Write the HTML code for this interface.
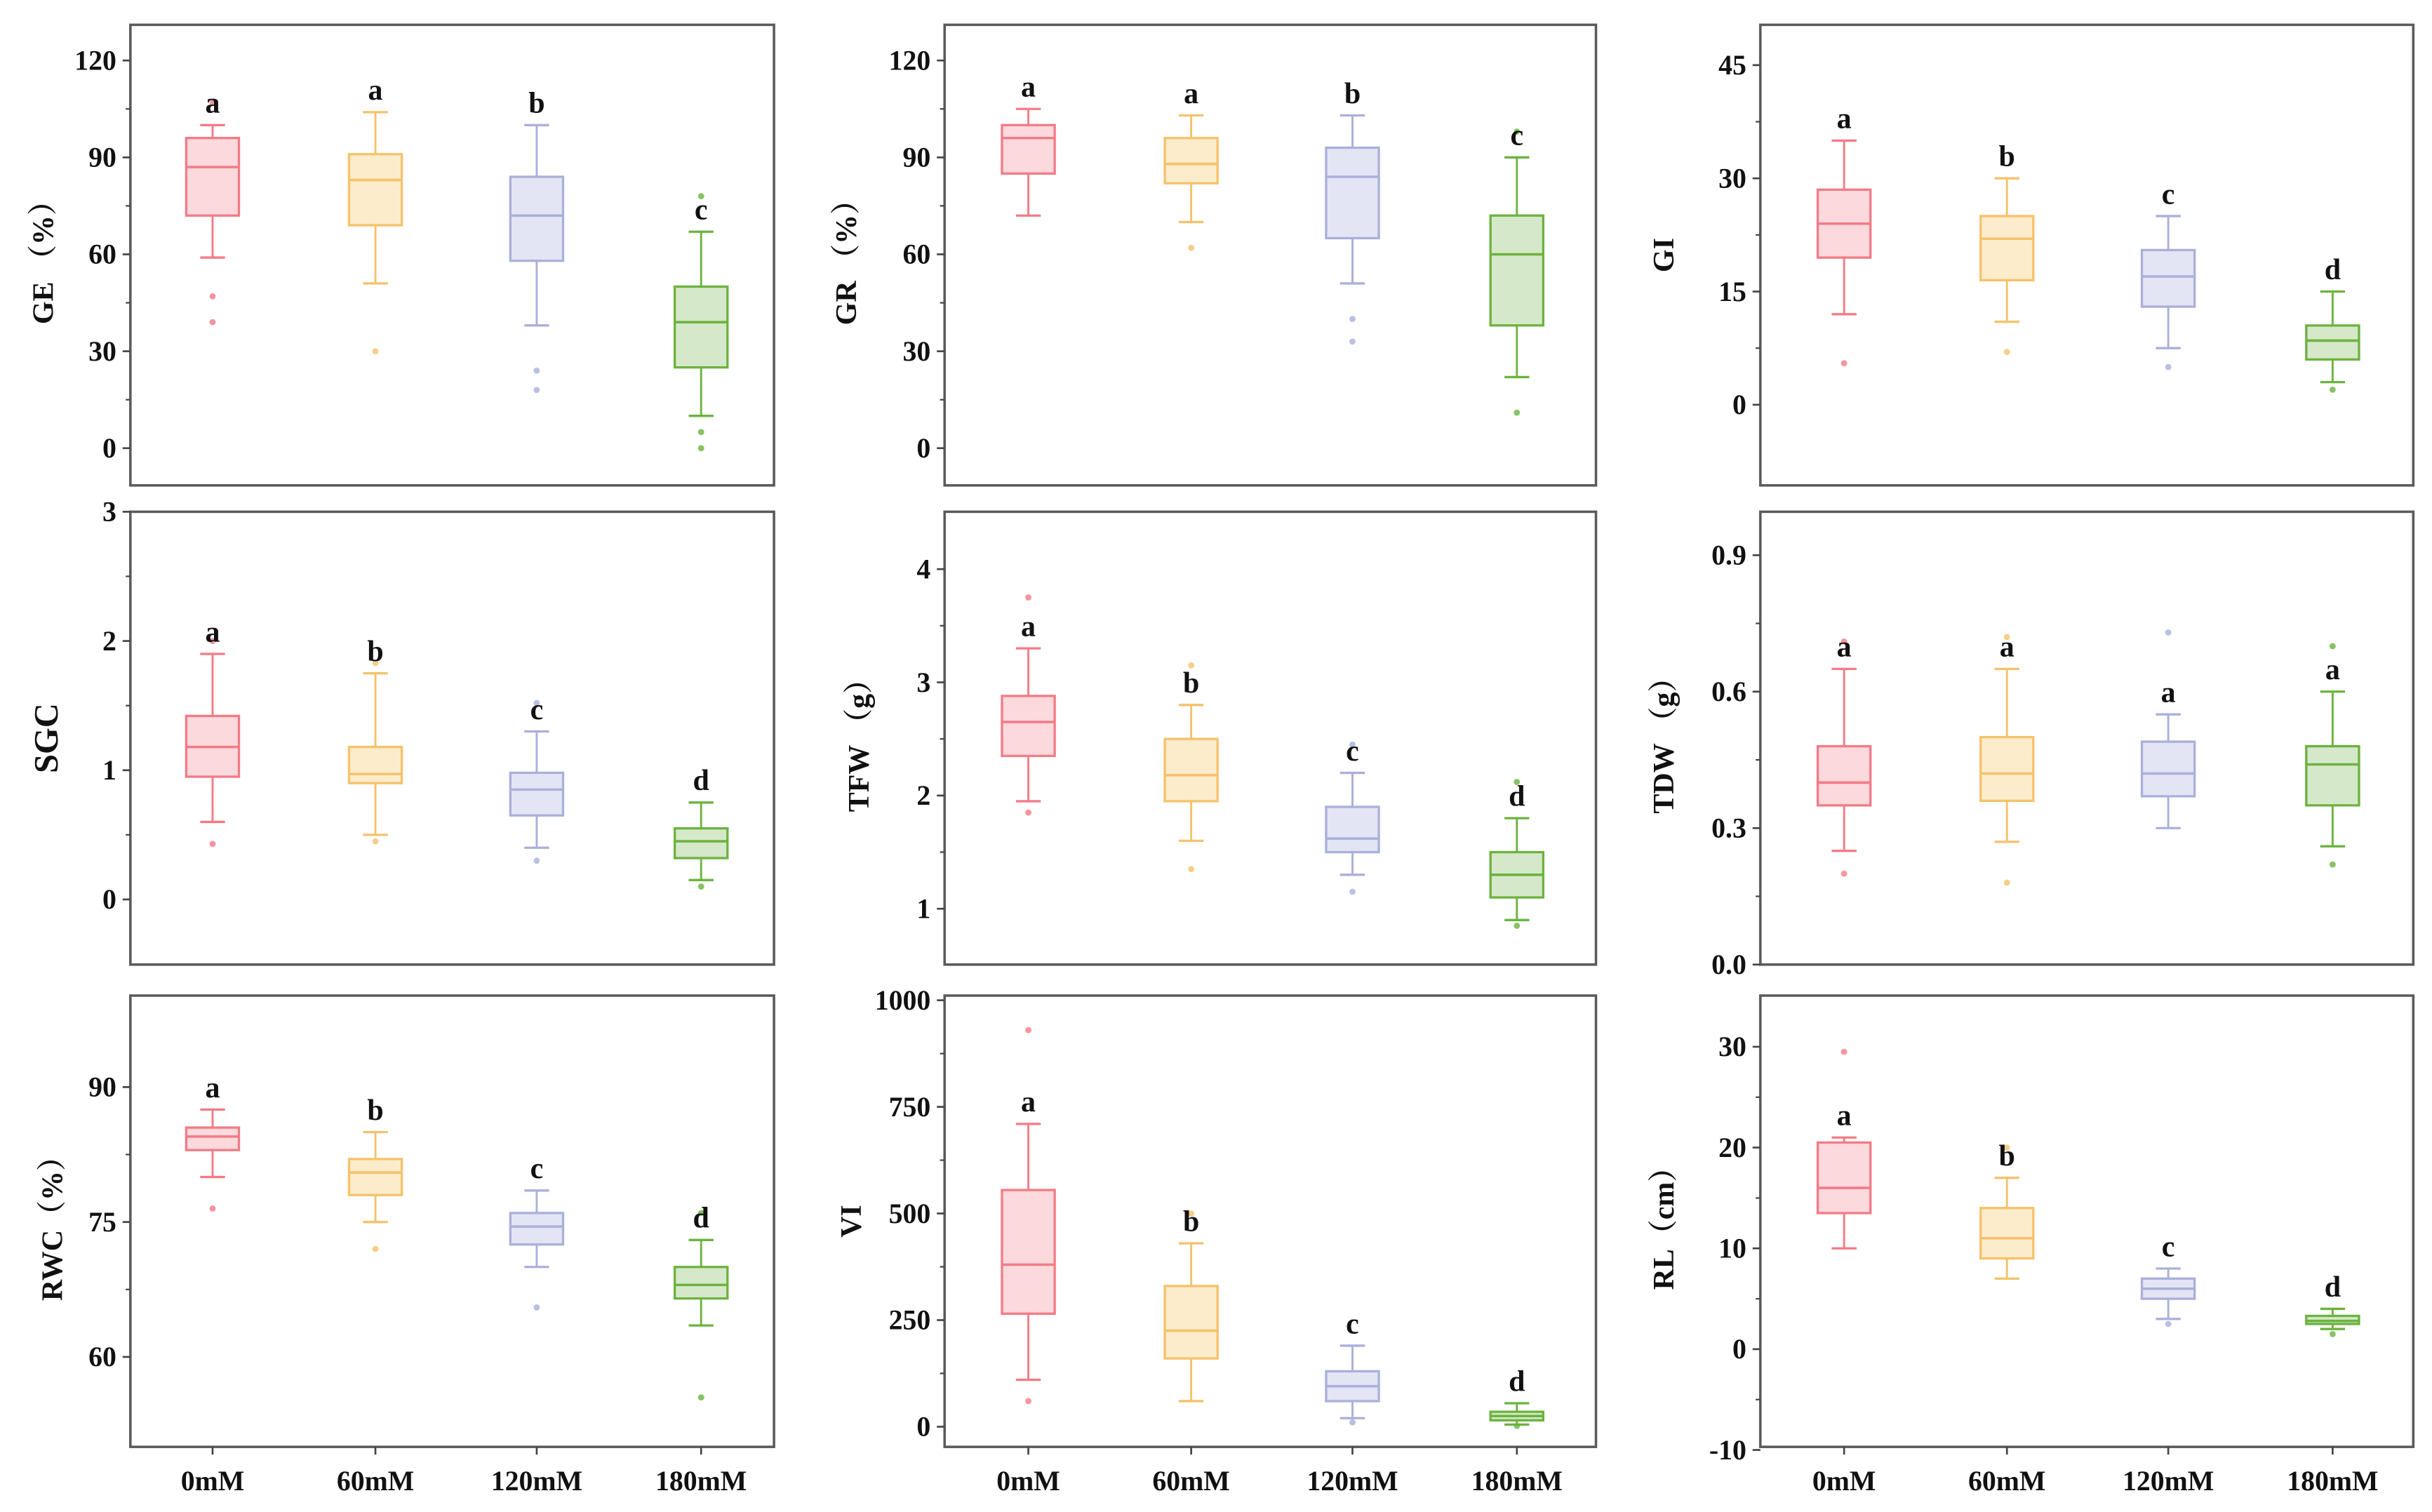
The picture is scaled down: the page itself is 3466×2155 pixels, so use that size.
<!DOCTYPE html>
<html><head><meta charset="utf-8">
<style>
html,body{margin:0;padding:0;background:#fff;}
svg{display:block;}
text{font-family:"Liberation Serif","Noto Serif CJK SC",serif;font-weight:bold;fill:#111;}
</style></head>
<body>
<svg id="fig" width="3466" height="2155" viewBox="0 0 1568 975" xmlns="http://www.w3.org/2000/svg"></svg>
<script>
// ---- data ----
const categories = ["0mM","60mM","120mM","180mM"];
const panelNames = ["GE","GR","GI","SGC","TFW","TDW","RWC","VI","RL"];
const yTitles = ["GE （%）","GR （%）","GI","SGC","TFW （g）","TDW （g）","RWC（%）","VI","RL（cm）"];
const yTicks = [[0,30,60,90,120],[0,30,60,90,120],[0,15,30,45],[0,1,2,3],[1,2,3,4],[0.0,0.3,0.6,0.9],[60,75,90],[0,250,500,750,1000],[-10,0,10,20,30]];
const yTickLabels = [["0","30","60","90","120"],["0","30","60","90","120"],["0","15","30","45"],["0","1","2","3"],["1","2","3","4"],["0.0","0.3","0.6","0.9"],["60","75","90"],["0","250","500","750","1000"],["-10","0","10","20","30"]];
// box stats per panel: [min,q1,median,q3,max] for each category
const statsGE  = [[59,72,87,96,100],[51,69,83,91,104],[38,58,72,84,100],[10,25,39,50,67]];
const statsGR  = [[72,85,96,100,105],[70,82,88,96,103],[51,65,84,93,103],[22,38,60,72,90]];
const statsGI  = [[12,19.5,24,28.5,35],[11,16.5,22,25,30],[7.5,13,17,20.5,25],[3,6,8.5,10.5,15]];
const statsSGC = [[0.6,0.95,1.18,1.42,1.9],[0.5,0.9,0.97,1.18,1.75],[0.4,0.65,0.85,0.98,1.3],[0.15,0.32,0.45,0.55,0.75]];
const statsTFW = [[1.95,2.35,2.65,2.88,3.3],[1.6,1.95,2.18,2.5,2.8],[1.3,1.5,1.62,1.9,2.2],[0.9,1.1,1.3,1.5,1.8]];
const statsTDW = [[0.25,0.35,0.40,0.48,0.65],[0.27,0.36,0.42,0.50,0.65],[0.3,0.37,0.42,0.49,0.55],[0.26,0.35,0.44,0.48,0.6]];
const statsRWC = [[80,83,84.5,85.5,87.5],[75,78,80.5,82,85],[70,72.5,74.5,76,78.5],[63.5,66.5,68,70,73]];
const statsVI  = [[110,265,380,555,710],[60,160,225,330,430],[20,60,95,130,190],[5,15,25,35,55]];
const statsRL  = [[10,13.5,16,20.5,21],[7,9,11,14,17],[3,5,6,7,8],[2,2.5,2.8,3.3,4]];
const outGE  = [[47,39,107],[30],[24,18],[78,5,0]];
const outGR  = [[],[62],[40,33],[98,11]];
const outGI  = [[5.5],[7],[5],[2]];
const outSGC = [[2.0,0.43],[1.83,0.45],[1.52,0.3],[0.1]];
const outTFW = [[3.75,1.85],[3.15,1.35],[2.45,1.15],[2.12,0.85]];
const outTDW = [[0.71,0.2],[0.72,0.18],[0.73],[0.7,0.22]];
const outRWC = [[76.5],[72],[65.5],[55.5,76]];
const outVI  = [[930,60],[500],[10],[2]];
const outRL  = [[29.5],[20],[2.5],[1.5]];
const letters = [["a","a","b","c"],["a","a","b","c"],["a","b","c","d"],["a","b","c","d"],["a","b","c","d"],["a","a","a","a"],["a","b","c","d"],["a","b","c","d"],["a","b","c","d"]];
const allStats = [statsGE,statsGR,statsGI,statsSGC,statsTFW,statsTDW,statsRWC,statsVI,statsRL];
const allOut = [outGE,outGR,outGI,outSGC,outTFW,outTDW,outRWC,outVI,outRL];

// ---- layout (viewBox units) ----
const colX = [[84,499],[609,1029],[1135,1556]];
const rowY = [[16,313],[330,622],[642,933]];
const catX = [[137,242,346,452],[663,768,872,978],[1189,1294,1398,1504]];
// pixel position of two reference ticks per panel -> linear scale
const scaleRef = [[0,289,120,39],[0,289,120,39],[0,261,45,42],[0,580,3,330],[1,586,4,367],[0,622,0.9,358],[60,875,90,701],[0,920,1000,645],[-10,935,30,675]];
const strokeC = ["#f37b86","#f5c26b","#aab0da","#6cb33f"];
const fillC = ["#fcd9dc","#fdeccb","#e3e5f4","#d6e8ca"];
const titleX = [27,545,1072,30,553,1072,33,548,1072];

const NS="http://www.w3.org/2000/svg";
const svg=document.getElementById('fig');
function mk(tag,attrs,parent){const e=document.createElementNS(NS,tag);for(const k in attrs)e.setAttribute(k,attrs[k]);(parent||svg).appendChild(e);return e;}

for(let p=0;p<9;p++){
  const r=Math.floor(p/3), c=p%3;
  const [x0,x1]=colX[c], [y0,y1]=rowY[r];
  const [v0,py0,v1,py1]=scaleRef[p];
  const yS=v=>py0+(v-v0)*(py1-py0)/(v1-v0);
  const g=mk('g',{});
  
  
  // frame
  const fr=mk('rect',{x:x0,y:y0,width:x1-x0,height:y1-y0,fill:'none',stroke:'#5a5a5a','stroke-width':1.6},g);
  
  
  // y ticks
  const tk=yTicks[p];
  for(let i=0;i<tk.length;i++){
    const y=yS(tk[i]);
    mk('line',{x1:x0-5,x2:x0,y1:y,y2:y,stroke:'#444','stroke-width':1.2},g);
    if(i<tk.length-1){const ym=yS((tk[i]+tk[i+1])/2);mk('line',{x1:x0-3,x2:x0,y1:ym,y2:ym,stroke:'#444','stroke-width':1},g);}
    const t=mk('text',{x:x0-9,y:y+6,'text-anchor':'end','font-size':18},g);
    t.textContent=yTickLabels[p][i];
    
    
  }
  // y title
  const cy=(y0+y1)/2;
  const yt=mk('text',{x:titleX[p],y:cy,'text-anchor':'middle','font-size':p===3?22:19,transform:`rotate(-90 ${titleX[p]} ${cy})`,dy:7},g);
  yt.textContent=yTitles[p];
  
  
  // boxes
  const st=allStats[p];
  for(let k=0;k<4;k++){
    const cx=catX[c][k], s=st[k], bw=17;
    const bg=mk('g',{},g);
    
    
    mk('line',{x1:cx,x2:cx,y1:yS(s[0]),y2:yS(s[4]),stroke:strokeC[k],'stroke-width':1.3},bg);
    mk('line',{x1:cx-8,x2:cx+8,y1:yS(s[0]),y2:yS(s[0]),stroke:strokeC[k],'stroke-width':1.5},bg);
    mk('line',{x1:cx-8,x2:cx+8,y1:yS(s[4]),y2:yS(s[4]),stroke:strokeC[k],'stroke-width':1.5},bg);
    mk('rect',{x:cx-bw,y:yS(s[3]),width:2*bw,height:yS(s[1])-yS(s[3]),fill:fillC[k],stroke:strokeC[k],'stroke-width':1.5},bg);
    mk('line',{x1:cx-bw,x2:cx+bw,y1:yS(s[2]),y2:yS(s[2]),stroke:strokeC[k],'stroke-width':1.6},bg);
    for(const o of allOut[p][k]){
      mk('circle',{cx:cx,cy:yS(o),r:2,fill:strokeC[k],opacity:0.8},bg);
    }
    const topV=Math.max(s[4],...allOut[p][k].filter(v=>v<=s[4]*1.05||false));
    const lt=mk('text',{x:cx,y:yS(s[4])-8,'text-anchor':'middle','font-size':19},bg);
    lt.textContent=letters[p][k];
    
    
  }
  // x axis ticks/labels (bottom row)
  if(r===2){
    for(let k=0;k<4;k++){
      const cx=catX[c][k];
      mk('line',{x1:cx,x2:cx,y1:y1,y2:y1+5,stroke:'#444','stroke-width':1.2},g);
      const xt=mk('text',{x:cx,y:y1+28,'text-anchor':'middle','font-size':18},g);
      xt.textContent=categories[k];
      
      
    }
  }
}
</script>
</body></html>
